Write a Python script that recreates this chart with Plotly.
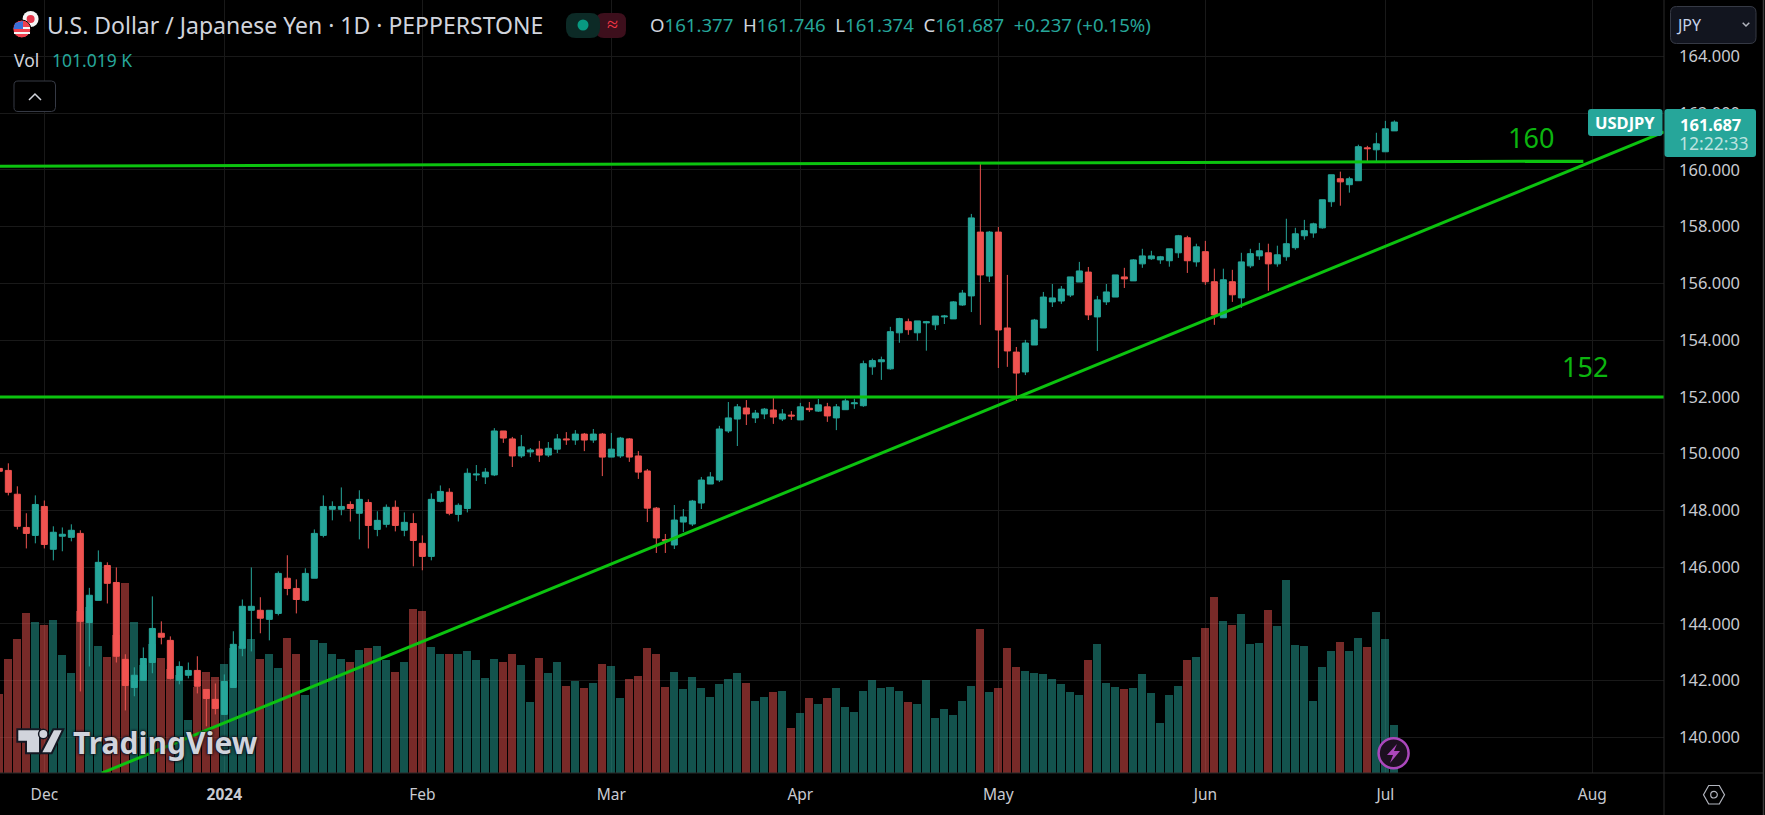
import plotly.graph_objects as go

# USD/JPY daily candles, oldest first
opens = [149.48, 149.41, 148.57, 147.40, 147.12, 148.14, 146.63, 147.09, 147.05, 147.19,
         144.05, 144.83, 146.06, 145.46, 142.75, 141.76, 142.01, 142.64, 143.67, 143.42,
         142.01, 142.19, 142.36, 141.69, 141.34, 140.81, 141.76, 143.14, 144.48, 144.48,
         144.16, 144.37, 145.61, 145.25, 144.83, 145.61, 147.12, 148.04, 148.04, 148.21,
         147.90, 148.28, 147.33, 147.51, 148.11, 147.30, 147.54, 146.84, 146.38, 148.32,
         148.64, 147.86, 148.07, 149.25, 149.18, 149.25, 150.80, 150.52, 149.92, 150.06,
         150.16, 149.95, 150.16, 150.52, 150.48, 150.69, 150.48, 150.69, 149.88, 149.92,
         150.52, 149.92, 149.39, 148.08, 146.97, 146.78, 147.59, 147.52, 148.26, 148.93,
         149.07, 150.80, 151.22, 151.61, 151.26, 151.40, 151.54, 151.22, 151.36, 151.19,
         151.60, 151.50, 151.65, 151.26, 151.55, 151.76, 151.69, 153.06, 153.24, 152.99,
         154.26, 154.65, 154.26, 154.61, 154.54, 154.82, 154.75, 155.24, 155.56, 157.81,
         156.26, 157.81, 154.43, 153.58, 152.88, 153.83, 154.43, 155.35, 155.38, 155.59,
         156.05, 156.40, 154.82, 155.35, 155.52, 156.23, 156.09, 156.69, 156.87, 156.83,
         156.80, 157.08, 157.61, 156.76, 157.12, 156.06, 154.79, 156.06, 155.49, 156.62,
         156.97, 157.08, 156.69, 156.94, 157.26, 157.68, 157.78, 157.96, 158.88, 159.69,
         159.48, 159.62, 160.78, 160.71, 160.64, 161.377]
highs = [149.60, 149.66, 148.85, 147.90, 148.53, 148.35, 147.44, 147.40, 147.51, 147.30,
         145.27, 146.59, 146.17, 145.99, 142.93, 142.47, 143.17, 144.97, 144.09, 143.56,
         142.68, 142.64, 142.86, 141.69, 141.90, 142.22, 143.74, 144.86, 145.99, 144.94,
         144.48, 145.85, 146.42, 145.57, 145.96, 147.33, 148.53, 148.32, 148.81, 148.32,
         148.71, 148.39, 147.97, 148.21, 148.35, 147.93, 147.90, 147.12, 148.60, 148.88,
         148.78, 148.25, 149.48, 149.60, 149.49, 150.90, 150.80, 150.59, 150.66, 150.20,
         150.45, 150.41, 150.69, 150.76, 150.83, 150.73, 150.87, 150.73, 150.73, 150.59,
         150.55, 150.09, 149.46, 148.12, 147.17, 148.19, 148.05, 148.37, 149.18, 149.35,
         150.98, 151.82, 151.75, 151.89, 151.54, 151.61, 151.96, 151.57, 151.50, 151.79,
         151.82, 151.93, 151.79, 151.75, 151.94, 151.94, 153.28, 153.35, 153.42, 154.47,
         154.79, 154.76, 154.68, 154.68, 154.85, 154.89, 155.38, 155.77, 158.45, 160.21,
         157.85, 157.99, 156.30, 153.76, 154.01, 154.75, 155.70, 155.98, 155.91, 156.23,
         156.76, 156.58, 155.56, 155.98, 156.30, 156.55, 156.86, 157.22, 157.15, 156.97,
         157.22, 157.71, 157.68, 157.40, 157.50, 156.52, 156.52, 156.48, 157.08, 157.22,
         157.43, 157.40, 157.33, 158.28, 157.96, 158.24, 158.14, 158.95, 159.83, 159.94,
         159.76, 160.89, 160.85, 161.31, 161.73, 161.746]
lows = [149.30, 148.53, 147.33, 146.66, 146.84, 146.66, 146.24, 146.56, 146.91, 141.62,
        142.50, 144.83, 144.72, 142.64, 140.95, 141.45, 142.01, 142.26, 143.28, 142.04,
        141.87, 142.08, 141.55, 140.39, 140.81, 140.81, 141.76, 142.86, 143.03, 143.67,
        143.42, 144.30, 145.01, 144.37, 144.79, 145.61, 147.05, 147.65, 147.83, 147.61,
        146.98, 146.66, 147.09, 147.40, 147.26, 147.09, 146.03, 145.89, 146.24, 148.28,
        147.83, 147.61, 147.93, 149.04, 148.93, 149.21, 150.38, 149.53, 149.85, 149.88,
        149.71, 149.88, 150.02, 150.31, 150.31, 150.09, 150.38, 149.21, 149.88, 149.85,
        149.71, 149.11, 147.59, 146.50, 146.50, 146.64, 147.24, 147.45, 148.05, 148.93,
        149.00, 150.73, 150.27, 151.01, 151.08, 151.22, 151.05, 151.15, 151.19, 151.19,
        151.47, 151.47, 151.12, 150.83, 151.55, 151.58, 151.65, 152.78, 152.60, 152.96,
        153.91, 154.19, 153.98, 153.63, 154.36, 154.57, 154.75, 155.21, 154.99, 154.54,
        156.05, 153.02, 153.06, 151.86, 152.77, 153.83, 154.43, 155.17, 155.28, 155.52,
        156.05, 154.71, 153.62, 155.24, 155.52, 155.84, 156.09, 156.55, 156.83, 156.69,
        156.59, 156.90, 156.37, 156.59, 155.95, 154.54, 154.79, 155.35, 155.14, 156.55,
        156.83, 155.74, 156.59, 156.80, 157.19, 157.54, 157.61, 157.93, 158.70, 158.74,
        159.20, 159.62, 160.29, 160.29, 160.64, 161.374]
closes = [149.38, 148.64, 147.44, 147.19, 148.21, 146.80, 147.23, 147.16, 147.30, 144.09,
          145.01, 146.17, 145.43, 142.86, 141.83, 142.19, 142.78, 143.84, 143.53, 142.08,
          142.50, 142.36, 141.80, 141.37, 141.02, 141.97, 143.28, 144.62, 144.62, 144.20,
          144.48, 145.78, 145.25, 144.86, 145.78, 147.19, 148.14, 148.14, 148.14, 148.07,
          148.39, 147.47, 147.65, 148.11, 147.47, 147.58, 146.94, 146.38, 148.39, 148.67,
          147.90, 148.18, 149.31, 149.28, 149.35, 150.80, 150.55, 149.92, 150.24, 150.13,
          149.95, 150.19, 150.52, 150.49, 150.69, 150.48, 150.69, 149.88, 150.16, 150.55,
          149.88, 149.35, 148.08, 147.03, 146.94, 147.66, 147.77, 148.33, 149.07, 149.18,
          150.87, 151.26, 151.65, 151.40, 151.43, 151.57, 151.29, 151.40, 151.33, 151.65,
          151.55, 151.72, 151.33, 151.65, 151.86, 151.79, 153.17, 153.28, 153.31, 154.30,
          154.76, 154.37, 154.68, 154.65, 154.85, 154.85, 155.35, 155.66, 158.31, 156.30,
          157.81, 154.36, 153.62, 152.84, 153.90, 154.71, 155.52, 155.49, 155.80, 156.23,
          156.44, 154.89, 155.42, 155.70, 156.30, 156.16, 156.83, 156.97, 156.97, 156.94,
          157.22, 157.68, 156.80, 157.29, 156.06, 154.89, 156.13, 155.60, 156.76, 157.05,
          157.15, 156.69, 157.01, 157.40, 157.75, 157.86, 158.10, 158.95, 159.83, 159.58,
          159.69, 160.82, 160.75, 160.92, 161.45, 161.687]
# volume in thousands
volumes = [167, 241, 283, 336, 317, 312, 323, 249, 211, 340,
           350, 268, 245, 291, 399, 317, 228, 272, 243, 218,
           207, 112, 180, 213, 203, 230, 264, 268, 281, 239,
           251, 220, 285, 251, 165, 279, 274, 251, 239, 234,
           258, 264, 268, 237, 213, 234, 346, 340, 266, 251,
           251, 251, 256, 237, 201, 239, 234, 251, 228, 150,
           243, 211, 234, 184, 194, 178, 190, 230, 226, 157,
           197, 205, 264, 251, 180, 213, 176, 203, 178, 159,
           188, 197, 211, 190, 152, 159, 171, 173, 95, 127,
           157, 146, 157, 178, 139, 128, 173, 196, 179, 181,
           173, 150, 145, 196, 116, 135, 122, 152, 183, 303,
           171, 179, 263, 223, 215, 211, 208, 198, 187, 171,
           164, 238, 272, 190, 181, 177, 179, 208, 168, 105,
           164, 183, 238, 244, 305, 371, 320, 312, 335, 272,
           274, 343, 310, 406, 270, 267, 152, 223, 257, 276,
           257, 284, 265, 339, 282, 101.019]

month_positions = [5, 25, 47, 68, 89, 111, 134, 154, 177]
month_labels = ["Dec", "<b>2024</b>", "Feb", "Mar", "Apr", "May", "Jun", "Jul", "Aug"]
price_ticks = [140, 142, 144, 146, 148, 150, 152, 154, 156, 158, 160, 162, 164]

# hand drawn levels, (bar position, price)
upper_level_x = [0.07, 176.0]
upper_level_y = [160.13, 160.31]
lower_level_x = [0.07, 184.96]
lower_level_y = [152.0, 152.0]
trend_x = [11.37, 184.96]
trend_y = [138.74, 161.34]

UP = "#26a69a"
DOWN = "#ef5350"
LEVEL = "#0cc30f"
TEXT = "#d1d4dc"
FONT = "Noto Sans"
W, H, PLOT_W, PLOT_H = 1765, 815, 1664, 773


def fx(px):
    return px / PLOT_W


def fy(py):
    return 1 - py / PLOT_H


def poly(points, close=True):
    d = "M" + " L".join(f"{fx(x):.5f},{fy(y):.5f}" for x, y in points)
    return d + (" Z" if close else "")


def rrect(x0, y0, x1, y1, r):
    return (f"M{fx(x0 + r):.5f},{fy(y0):.5f} L{fx(x1 - r):.5f},{fy(y0):.5f} "
            f"Q{fx(x1):.5f},{fy(y0):.5f} {fx(x1):.5f},{fy(y0 + r):.5f} "
            f"L{fx(x1):.5f},{fy(y1 - r):.5f} Q{fx(x1):.5f},{fy(y1):.5f} {fx(x1 - r):.5f},{fy(y1):.5f} "
            f"L{fx(x0 + r):.5f},{fy(y1):.5f} Q{fx(x0):.5f},{fy(y1):.5f} {fx(x0):.5f},{fy(y1 - r):.5f} "
            f"L{fx(x0):.5f},{fy(y0 + r):.5f} Q{fx(x0):.5f},{fy(y0):.5f} {fx(x0 + r):.5f},{fy(y0):.5f} Z")


def path_shape(path, fill="rgba(0,0,0,0)", line=None, width=1):
    return dict(type="path", xref="paper", yref="paper", path=path, fillcolor=fill,
                line=dict(color=line or "rgba(0,0,0,0)", width=width), layer="above")


def circle(cx, cy, r, fill, line=None, width=0):
    return dict(type="circle", xref="paper", yref="paper",
                x0=fx(cx - r), x1=fx(cx + r), y0=fy(cy + r), y1=fy(cy - r),
                fillcolor=fill, line=dict(color=line or "rgba(0,0,0,0)", width=width), layer="above")


def label(px, py, text, size, color=TEXT, anchor="left", **font):
    return dict(xref="paper", yref="paper", x=fx(px), y=fy(py), text=text, showarrow=False,
                xanchor=anchor, yanchor="middle", align=anchor, borderpad=0,
                font=dict(family=FONT, size=size, color=color, **font))


bar_x = list(range(len(closes)))
vol_colors = ["rgba(38,166,154,0.5)" if c >= o else "rgba(239,83,80,0.5)" for o, c in zip(opens, closes)]

fig = go.Figure()
fig.add_bar(x=bar_x, y=volumes, width=0.89, marker=dict(color=vol_colors, line=dict(width=0)), yaxis="y")
fig.add_candlestick(
    x=bar_x, open=opens, high=highs, low=lows, close=closes, yaxis="y2",
    increasing=dict(line=dict(color=UP, width=1), fillcolor=UP),
    decreasing=dict(line=dict(color=DOWN, width=1), fillcolor=DOWN),
)
for xs, ys in [(upper_level_x, upper_level_y), (lower_level_x, lower_level_y), (trend_x, trend_y)]:
    fig.add_scatter(x=xs, y=ys, mode="lines", line=dict(color=LEVEL, width=3), yaxis="y2")

teal = "#26a69a"
ohlc = (f'O<span style="color:{teal}">161.377</span>  H<span style="color:{teal}">161.746</span>  '
        f'L<span style="color:{teal}">161.374</span>  C<span style="color:{teal}">161.687</span>  '
        f'<span style="color:{teal}">+0.237 (+0.15%)</span>')

annotations = [
    label(46, 25, "U.S. Dollar / Japanese Yen · 1D · PEPPERSTONE", 23),
    label(649, 25, ohlc, 18.6),
    label(13, 60, "Vol", 17.5),
    label(51, 60, f'<span style="color:{teal}">101.019 K</span>', 17.5),
    label(1531, 137, "160", 27, "#0cb50f", "center"),
    label(1585, 366, "152", 27, "#0cb50f", "center"),
    label(1625, 122.5, "<b>USDJPY</b>", 16.5, "#ffffff", "center"),
    label(1710, 124, "<b>161.687</b>", 16.5, "#ffffff", "center"),
    label(1713, 143, "12:22:33", 17.5, "rgba(255,255,255,0.7)", "center"),
    label(1675, 25, "JPY", 16, "#c5d2ea"),
    label(612, 24, "≈", 20, "#f23645", "center"),
    label(72, 742, "<b>TradingView</b>", 30, "#d1d4dc",
          shadow="0 0 3px #131722, 0 0 3px #131722, 0 0 2px #131722"),
]

logo_outline = "#131722"
shapes = [
    # axis frame
    dict(type="line", xref="paper", yref="paper", x0=1, x1=1, y0=-42 / PLOT_H, y1=1,
         line=dict(color="#2a2a2a", width=1), layer="above"),
    dict(type="line", xref="paper", yref="paper", x0=0, x1=fx(1763), y0=0, y1=0,
         line=dict(color="#2a2a2a", width=1), layer="above"),
    dict(type="line", xref="paper", yref="paper", x0=fx(1763.5), x1=fx(1763.5), y0=-42 / PLOT_H, y1=1,
         line=dict(color="#3a3a3a", width=1.5), layer="above"),
    # flags
    circle(30.6, 19, 8, "#f5f5f5"),
    circle(30.6, 19, 4, "#e5364b"),
    circle(21.8, 29, 9, "#f0404f", "#000000", 1),
    path_shape(poly([(14, 27), (30, 27), (30, 29), (14, 29)]), "#f5f5f5"),
    path_shape(poly([(14, 32), (30, 32), (30, 34), (14, 34)]), "#f5f5f5"),
    path_shape(poly([(15, 23), (23, 21), (23, 29), (13.5, 29)]), "#3a6fd8"),
    # market status pill
    path_shape(rrect(596, 13, 626, 38, 8), "#3d0f1c"),
    path_shape(rrect(566, 13, 600, 38, 10), "#0c2a26"),
    circle(583, 25, 5.5, "#089981"),
    # collapse button and chevron
    path_shape(rrect(14, 81, 55.5, 111.5, 4), "#000000", "#363a45"),
    path_shape(poly([(29, 100), (35, 94), (41, 100)], close=False), line="#d1d4dc", width=1.5),
    # currency button
    path_shape(rrect(1670.5, 6.5, 1756, 43.5, 6), "#12151f", "#363a45"),
    path_shape(poly([(1742.7, 22.7), (1746, 26), (1749.3, 22.7)], close=False), line="#b2b5be", width=1.5),
    # price tags, they hide the 162 tick label
    path_shape(rrect(1588, 109, 1662.5, 136, 3), teal),
    path_shape(rrect(1664.5, 109, 1756, 157, 3), teal),
    # TradingView glyph
    path_shape(poly([(17.3, 729.3), (40, 729.3), (40, 753.3), (26, 753.3), (26, 741.7), (17.3, 741.7)]),
               "#d1d4dc", logo_outline, 2),
    circle(43.3, 734, 4.7, "#d1d4dc", logo_outline, 1.5),
    path_shape(poly([(53.3, 729.3), (63.3, 729.3), (51.7, 753.3), (40.7, 753.3)]), "#d1d4dc", logo_outline, 2),
    # lightning badge
    circle(1393.6, 753.3, 15, "#1c0f20", "#ab47bc", 2.5),
    path_shape(poly([(1397, 744), (1387, 755), (1393, 755), (1390, 763), (1400, 751), (1394, 751)]), "#ab47bc"),
    # settings hexagon
    path_shape(poly([(1703.5, 794.7), (1708.7, 785.5), (1719.3, 785.5), (1724.5, 794.7),
                     (1719.3, 804), (1708.7, 804)]), line="#b2b5be", width=1.2),
    circle(1714, 794.7, 3.3, "rgba(0,0,0,0)", "#b2b5be", 1.2),
]

fig.update_layout(
    width=W, height=H, autosize=False,
    margin=dict(l=0, r=W - PLOT_W, t=0, b=H - PLOT_H),
    paper_bgcolor="#000000", plot_bgcolor="#000000",
    showlegend=False, boxgap=0.33, boxgroupgap=0, bargap=0,
    font=dict(family=FONT, color="#c8cad0"),
    annotations=annotations, shapes=shapes,
    xaxis=dict(
        range=[0.074, 184.96], tickmode="array", tickvals=month_positions, ticktext=month_labels,
        showgrid=True, gridcolor="#191919", gridwidth=1, zeroline=False, showline=False,
        ticks="", ticklabelstandoff=10, tickfont=dict(size=15.5, color="#c8cad0"),
        rangeslider=dict(visible=False),
    ),
    yaxis=dict(range=[0, 1627], visible=False, fixedrange=True),
    yaxis2=dict(
        range=[138.745, 165.99], overlaying="y", side="right", anchor="x",
        tickmode="array", tickvals=price_ticks, tickformat=".3f",
        showgrid=True, gridcolor="#191919", gridwidth=1, zeroline=False, showline=False,
        ticks="", ticklabelstandoff=14, tickfont=dict(size=16.5, color="#c8cad0"),
    ),
)

fig.write_html(
    "out.html",
    config={"displayModeBar": False},
    post_script="document.body.style.margin='0';document.body.style.background='#000';"
                "document.body.style.overflow='hidden';",
)
